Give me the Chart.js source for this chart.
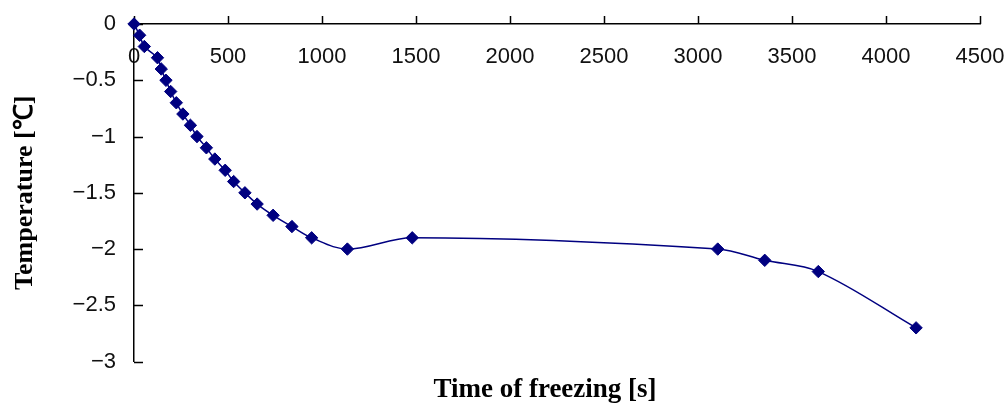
<!DOCTYPE html>
<html>
<head>
<meta charset="utf-8">
<script src="https://cdn.jsdelivr.net/npm/chart.js@4.4.1/dist/chart.umd.min.js"></script>
<style>
  html, body { margin: 0; padding: 0; background: #fff; }
  #wrap { width: 1006px; height: 403px; }
</style>
</head>
<body>
<div id="wrap"><canvas id="freezeChart"></canvas></div>
<script>
// freezing curve: time in seconds, temperature in deg C
const timeSec = [0, 30, 55, 125, 145, 170, 195, 225, 260, 300, 335, 385, 430, 485, 530, 590, 655, 740, 840, 945, 1135, 1480, 3105, 3355, 3640, 4160]
const tempC = [0, -0.1, -0.2, -0.3, -0.4, -0.5, -0.6, -0.7, -0.8, -0.9, -1.0, -1.1, -1.2, -1.3, -1.4, -1.5, -1.6, -1.7, -1.8, -1.9, -2.0, -1.9, -2.0, -2.1, -2.2, -2.7]

const xTickValues = [0, 500, 1000, 1500, 2000, 2500, 3000, 3500, 4000, 4500]
const yTickValues = [0, -0.5, -1, -1.5, -2, -2.5, -3]

const navy = '#000080'
const tickFont = { family: 'Liberation Sans', size: 22 }

// short tick marks: pointing up on the time axis, pointing right on the temperature axis
const tickMarks = {
    id: 'tickMarks',
    afterLayout(chart) {
        // pull the time title a little to the left of the plot centre
        chart.scales.xTitle.right -= 24
    },
    beforeDatasetsDraw(chart) {
        const { ctx, scales: { x, y } } = chart
        const y0 = y.getPixelForValue(0)
        const x0 = x.getPixelForValue(0)
        ctx.save()
        ctx.strokeStyle = '#000'
        ctx.lineWidth = 1.5
        ctx.beginPath()
        xTickValues.forEach(v => {
            const px = Math.round(x.getPixelForValue(v)) + 0.5
            ctx.moveTo(px, y0)
            ctx.lineTo(px, y0 - 8)
        })
        yTickValues.forEach(v => {
            const py = Math.round(y.getPixelForValue(v)) + 0.5
            ctx.moveTo(x0, py)
            ctx.lineTo(x0 + 9, py)
        })
        ctx.stroke()
        ctx.restore()
    }
}

const points = timeSec.map((t, i) => ({ x: t, y: tempC[i] }))

new Chart(document.getElementById('freezeChart'), {
    type: 'line',
    data: {
        datasets: [{
            data: points,
            borderColor: navy,
            borderWidth: 1.5,
            backgroundColor: navy,
            pointStyle: 'rectRot',
            pointRadius: 6.2,
            pointBorderWidth: 1,
            pointBorderColor: navy,
            pointBackgroundColor: navy,
            tension: 0.35,
            clip: false
        }]
    },
    options: {
        responsive: true,
        maintainAspectRatio: false,
        animation: false,
        layout: { padding: { top: 24, right: 26, bottom: 0, left: 0 } },
        plugins: {
            legend: { display: false },
            tooltip: { enabled: false }
        },
        scales: {
            x: {
                type: 'linear',
                position: { y: 0 },
                min: 0,
                max: 4500,
                afterBuildTicks: scale => { scale.ticks = xTickValues.map(v => ({ value: v })) },
                afterFit: scale => { scale.paddingLeft = 0; scale.paddingRight = 0 },
                grid: { display: false, drawTicks: false },
                border: { display: true, color: '#000', width: 1.5 },
                ticks: {
                    color: '#111',
                    font: tickFont,
                    padding: 20,
                    maxRotation: 0,
                    autoSkip: false,
                    callback: v => String(v)
                }
            },
            // bottom axis only carries the time title
            xTitle: {
                type: 'linear',
                position: 'bottom',
                min: 0,
                max: 4500,
                afterFit: scale => { scale.paddingLeft = 0; scale.paddingRight = 0 },
                grid: { display: false, drawTicks: false },
                border: { display: false },
                ticks: { display: false },
                title: {
                    display: true,
                    text: 'Time of freezing [s]',
                    color: '#000',
                    font: { family: 'Liberation Serif', size: 27, weight: 'bold' },
                    padding: { top: 12, bottom: -3 }
                }
            },
            y: {
                type: 'linear',
                position: 'left',
                min: -3,
                max: 0,
                afterBuildTicks: scale => { scale.ticks = yTickValues.map(v => ({ value: v })) },
                afterFit: scale => {
                    scale.width = 134
                    scale.paddingTop = 0
                    scale.paddingBottom = 0
                },
                grid: { display: false, drawTicks: false },
                border: { display: true, color: '#000', width: 1.5 },
                ticks: {
                    color: '#111',
                    font: tickFont,
                    padding: 18,
                    callback: v => String(v).replace('-', '−')
                },
                title: {
                    display: true,
                    text: 'Temperature [℃]',
                    color: '#000',
                    font: { family: 'Liberation Serif', size: 26, weight: 'bold' },
                    padding: { top: 10, bottom: 0 }
                }
            }
        }
    },
    plugins: [tickMarks]
})
</script>
</body>
</html>
